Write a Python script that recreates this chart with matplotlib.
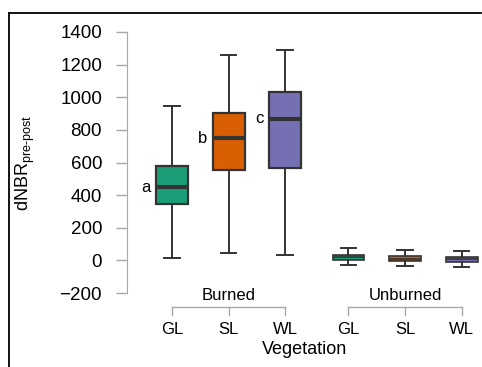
import numpy as np
import matplotlib
matplotlib.use('Agg')
import matplotlib.pyplot as plt
from matplotlib.lines import Line2D

plt.rcParams['font.family'] = ['Liberation Sans', 'DejaVu Sans']
plt.rcParams['mathtext.fontset'] = 'custom'
plt.rcParams['mathtext.rm'] = 'Liberation Sans'

# data
groups = ['Burned', 'Burned', 'Burned', 'Unburned', 'Unburned', 'Unburned']
veg = ['GL', 'SL', 'WL', 'GL', 'SL', 'WL']
whislo = [13, 44, 33, -30, -35, -38]
q1 = [344, 556, 565, 5, -5, -10]
med = [448, 749, 867, 20, 8, 6]
q3 = [581, 906, 1035, 35, 25, 20]
whishi = [947, 1262, 1287, 75, 62, 60]
letters = ['a', 'b', 'c', '', '', '']
colors = ['#1b9e77', '#d95f02', '#7570b3', '#1b9e77', '#d95f02', '#7570b3']
pos = [0, 1, 2, 3.12, 4.12, 5.12]

fig = plt.figure(figsize=(4.82, 3.67), dpi=100)
ax = fig.add_axes([127/482, 74/367, 1 - 127/482, 261/367])

stats = []
for i in range(len(veg)):
    stats.append(dict(med=med[i], q1=q1[i], q3=q3[i], whislo=whislo[i],
                      whishi=whishi[i], fliers=[], label=veg[i]))

bp = ax.bxp(stats, positions=pos, widths=0.565, patch_artist=True,
            showfliers=False, capwidths=0.27,
            boxprops=dict(edgecolor='#333333', linewidth=1.6),
            medianprops=dict(color='#333333', linewidth=3),
            whiskerprops=dict(color='#333333', linewidth=1.4),
            capprops=dict(color='#333333', linewidth=1.4))
for patch, c in zip(bp['boxes'], colors):
    patch.set_facecolor(c)
# the unburned boxes are tiny, so their medians are drawn thin
for i, line in enumerate(bp['medians']):
    if groups[i] == 'Unburned':
        line.set_linewidth(1.2)
        bp['boxes'][i].set_linewidth(1.2)

for p, m, l in zip(pos, med, letters):
    if l:
        ax.text(p - 0.38, m, l, ha='right', va='center', fontsize=12)

ax.set_xlim(-0.795, 5.48)
ax.set_ylim(-200, 1400)
ax.set_yticks(np.arange(-200, 1401, 200))
ax.set_yticklabels(['\u2212200'] + [str(v) for v in range(0, 1401, 200)])
ax.set_xticks(pos)
ax.set_xticklabels(veg)
ax.tick_params(axis='x', length=0, pad=21, labelsize=12)
ax.tick_params(axis='y', length=8, width=1, color='#a8a8a8', pad=10, labelsize=13.5)
for s in ['top', 'right', 'bottom']:
    ax.spines[s].set_visible(False)
ax.spines['left'].set_color('#a8a8a8')

ax.set_xlabel('Vegetation', fontsize=13, labelpad=3)
ax.set_ylabel(r'dNBR$_{\mathrm{pre\text{-}post}}$', fontsize=13, labelpad=16)

# group brackets
tr = ax.get_xaxis_transform()
for name, idx in [('Burned', [0, 1, 2]), ('Unburned', [3, 4, 5])]:
    x0, x1 = pos[idx[0]], pos[idx[-1]]
    ax.plot([x0, x1], [-0.054, -0.054], color='#a8a8a8', lw=1,
            transform=tr, clip_on=False)
    for k in idx:
        ax.plot([pos[k], pos[k]], [-0.054, -0.084], color='#a8a8a8', lw=1,
                transform=tr, clip_on=False)
    ax.text((x0 + x1) / 2, -0.01, name, ha='center', va='center',
            fontsize=12, transform=tr)

# outer frame (left and top)
fig.add_artist(Line2D([9/482, 9/482], [0, 1 - 13/367], color='black', lw=1.3,
                      transform=fig.transFigure))
fig.add_artist(Line2D([9/482, 481/482], [1 - 13/367, 1 - 13/367], color='black',
                      lw=1.3, transform=fig.transFigure))

fig.savefig('out.png', dpi=100)
